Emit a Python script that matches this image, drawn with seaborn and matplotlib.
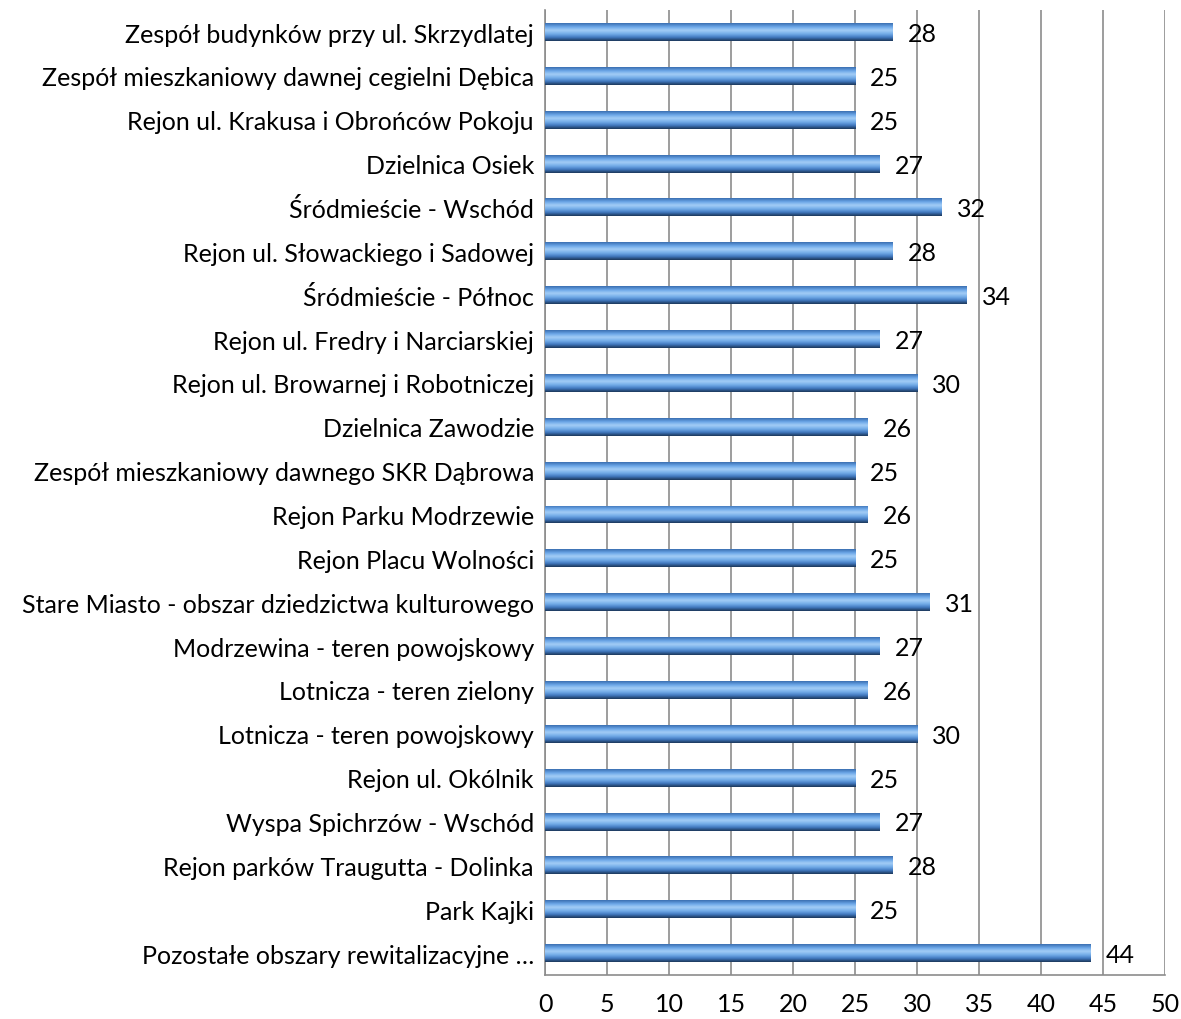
import matplotlib

matplotlib.use("Agg")
import matplotlib.pyplot as plt
import numpy as np
import pandas as pd
import seaborn as sns
from matplotlib.colors import LinearSegmentedColormap

areas = [
    "Zespół budynków przy ul. Skrzydlatej",
    "Zespół mieszkaniowy dawnej cegielni Dębica",
    "Rejon ul. Krakusa i Obrońców Pokoju",
    "Dzielnica Osiek",
    "Śródmieście - Wschód",
    "Rejon ul. Słowackiego i Sadowej",
    "Śródmieście - Północ",
    "Rejon ul. Fredry i Narciarskiej",
    "Rejon ul. Browarnej i Robotniczej",
    "Dzielnica Zawodzie",
    "Zespół mieszkaniowy dawnego SKR Dąbrowa",
    "Rejon Parku Modrzewie",
    "Rejon Placu Wolności",
    "Stare Miasto - obszar dziedzictwa kulturowego",
    "Modrzewina - teren powojskowy",
    "Lotnicza - teren zielony",
    "Lotnicza - teren powojskowy",
    "Rejon ul. Okólnik",
    "Wyspa Spichrzów - Wschód",
    "Rejon parków Traugutta - Dolinka",
    "Park Kajki",
    "Pozostałe obszary rewitalizacyjne …",
]
values = [28, 25, 25, 27, 32, 28, 34, 27, 30, 26, 25, 26, 25, 31, 27, 26, 30, 25, 27, 28, 25, 44]
x_ticks = list(range(0, 51, 5))

df = pd.DataFrame({"area": areas, "value": values})

sns.set_theme(style="white")
plt.rcParams["font.family"] = ["Lato", "DejaVu Sans"]
FS = 18

fig = plt.figure(figsize=(11.81, 10.20), dpi=100)
ax = fig.add_axes([0.4615, 0.0431, 0.525, 0.946])

sns.barplot(data=df, x="value", y="area", orient="h", width=0.41,
            color="#4a86cf", edgecolor="none", ax=ax, zorder=3)

# cylinder-like shading: dark top edge, light middle, dark bottom
cyl = LinearSegmentedColormap.from_list(
    "cyl", ["#3a6eb0", "#6aa6e8", "#a4cdf6", "#74ade9", "#4179c0", "#1b3659"])
grad = np.linspace(0, 1, 64).reshape(-1, 1)
for p in ax.patches:
    x0, y0 = p.get_x(), p.get_y()
    w, h = p.get_width(), p.get_height()
    im = ax.imshow(grad, cmap=cyl, aspect="auto", extent=(x0, x0 + w, y0 + h, y0),
                   zorder=4, interpolation="bicubic")
    im.set_clip_path(p)
    ax.annotate(f"{w:g}", (x0 + w, y0 + h / 2), xytext=(11, -1), textcoords="offset points",
                ha="left", va="center", fontsize=FS, color="black", zorder=5)

ax.set_xlim(0, 50)
ax.set_ylim(len(areas) - 0.5, -0.5)
ax.set_xticks(x_ticks)
ax.set_xticklabels([str(t) for t in x_ticks])
ax.tick_params(axis="x", labelsize=FS, pad=12, length=0, labelcolor="black")
ax.tick_params(axis="y", labelsize=FS, pad=8, length=0, labelcolor="black")
ax.set_xlabel("")
ax.set_ylabel("")
ax.xaxis.grid(True, color="#8c8c8c", linewidth=1.2, zorder=0)
ax.set_axisbelow(True)
for side in ["top", "right"]:
    ax.spines[side].set_visible(False)
for side in ["left", "bottom"]:
    ax.spines[side].set_color("#8c8c8c")
    ax.spines[side].set_linewidth(1.2)

fig.savefig("out.png", dpi=100)
